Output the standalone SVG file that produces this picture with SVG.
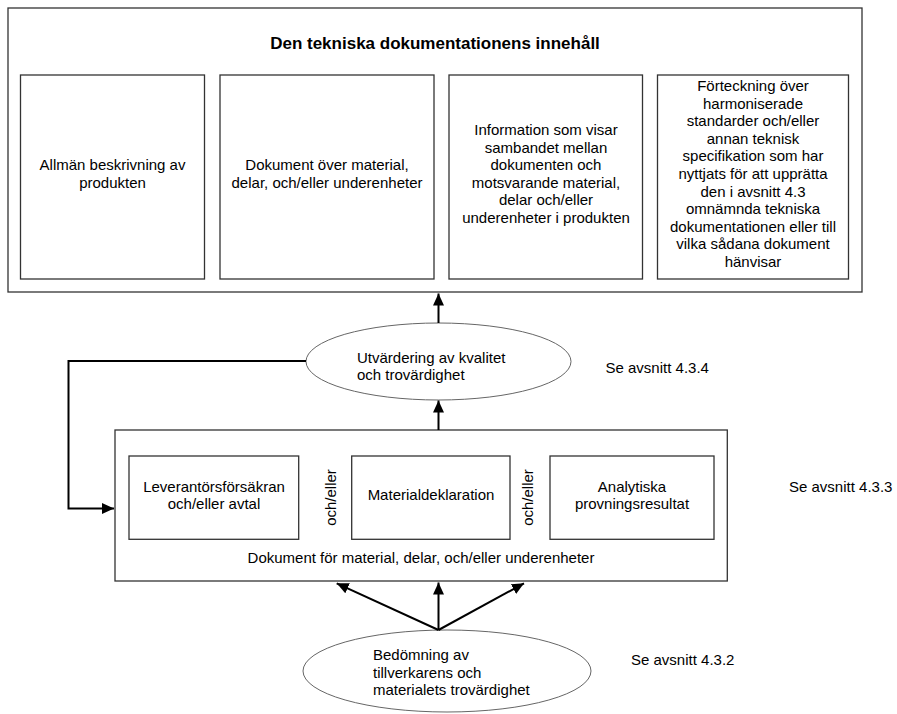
<svg xmlns="http://www.w3.org/2000/svg" width="897" height="714" viewBox="0 0 897 714">
<style>
.box{fill:#fff;stroke:#333;stroke-width:1.3}
.ell{fill:#fff;stroke:#666;stroke-width:1}
.t{font-family:"Liberation Sans",Arial,sans-serif;font-size:15px;fill:#000}
.c{text-anchor:middle}
.title{font-family:"Liberation Sans",Arial,sans-serif;font-size:17px;font-weight:bold;fill:#000;text-anchor:middle}
.arr{fill:none;stroke:#000;stroke-width:2}
</style>
<defs>
<marker id="ah" markerUnits="userSpaceOnUse" markerWidth="13" markerHeight="12" refX="12" refY="5.5" orient="auto">
<path d="M0,0 L12,5.5 L0,11 z" fill="#000"/>
</marker>
</defs>
<rect width="897" height="714" fill="#fff"/>

<g id="tech-doc">
<rect class="box" x="8" y="8" width="854" height="284"/>
<text class="title" x="435" y="48.5">Den tekniska dokumentationens innehåll</text>
</g>

<g id="box-allman">
<rect class="box" x="20.5" y="75" width="184" height="204"/>
<text class="t c" x="112.5" y="170">Allmän beskrivning av</text>
<text class="t c" x="112.5" y="187.5">produkten</text>
</g>

<g id="box-dokument">
<rect class="box" x="220" y="75" width="214" height="204"/>
<text class="t c" x="327" y="170">Dokument över material,</text>
<text class="t c" x="327" y="187.5">delar, och/eller underenheter</text>
</g>

<g id="box-information">
<rect class="box" x="449" y="75" width="193.5" height="204"/>
<text class="t c" x="546" y="135">Information som visar</text>
<text class="t c" x="546" y="152.5">sambandet mellan</text>
<text class="t c" x="546" y="170">dokumenten och</text>
<text class="t c" x="546" y="187.5">motsvarande material,</text>
<text class="t c" x="546" y="205">delar och/eller</text>
<text class="t c" x="546" y="222.5">underenheter i produkten</text>
</g>

<g id="box-forteckning">
<rect class="box" x="657.5" y="75" width="191" height="204"/>
<text class="t c" x="753" y="91">Förteckning över</text>
<text class="t c" x="753" y="108.6">harmoniserade</text>
<text class="t c" x="753" y="126.2">standarder och/eller</text>
<text class="t c" x="753" y="143.8">annan teknisk</text>
<text class="t c" x="753" y="161.4">specifikation som har</text>
<text class="t c" x="753" y="179">nyttjats för att upprätta</text>
<text class="t c" x="753" y="196.6">den i avsnitt 4.3</text>
<text class="t c" x="753" y="214.2">omnämnda tekniska</text>
<text class="t c" x="753" y="231.8">dokumentationen eller till</text>
<text class="t c" x="753" y="249.4">vilka sådana dokument</text>
<text class="t c" x="753" y="267">hänvisar</text>
</g>

<g id="utvardering">
<ellipse class="ell" cx="438.5" cy="361.5" rx="132.5" ry="38.5"/>
<text class="t" x="357" y="362.5">Utvärdering av kvalitet</text>
<text class="t" x="357" y="380">och trovärdighet</text>
</g>
<text class="t" x="605.5" y="372.5">Se avsnitt 4.3.4</text>

<g id="dokument-for">
<rect class="box" x="115" y="430" width="612.3" height="151"/>
<text class="t c" x="421" y="563">Dokument för material, delar, och/eller underenheter</text>
<text class="t c" transform="translate(335.5,497.5) rotate(-90)">och/eller</text>
<text class="t c" transform="translate(532.5,497.5) rotate(-90)">och/eller</text>
</g>

<g id="leverantor">
<rect class="box" x="129" y="456" width="169.7" height="83.3"/>
<text class="t c" x="214" y="491.5">Leverantörsförsäkran</text>
<text class="t c" x="214" y="509">och/eller avtal</text>
</g>

<g id="materialdeklaration">
<rect class="box" x="351.7" y="456" width="158.3" height="83.3"/>
<text class="t c" x="431" y="500">Materialdeklaration</text>
</g>

<g id="analytiska">
<rect class="box" x="550" y="456" width="164" height="83.3"/>
<text class="t c" x="632" y="491.5">Analytiska</text>
<text class="t c" x="632" y="509">provningsresultat</text>
</g>
<text class="t" x="789" y="491.5">Se avsnitt 4.3.3</text>

<g id="bedomning">
<ellipse class="ell" cx="447" cy="671" rx="144" ry="41"/>
<text class="t" x="373" y="660">Bedömning av</text>
<text class="t" x="373" y="677.5">tillverkarens och</text>
<text class="t" x="373" y="695">materialets trovärdighet</text>
</g>
<text class="t" x="631" y="665">Se avsnitt 4.3.2</text>

<g id="connectors">
<line class="arr" x1="438.5" y1="323" x2="438.5" y2="293.5" marker-end="url(#ah)"/>
<line class="arr" x1="438.5" y1="430" x2="438.5" y2="400.5" marker-end="url(#ah)"/>
<polyline class="arr" points="306,361 68.5,361 68.5,508.5 114,508.5" marker-end="url(#ah)"/>
<line class="arr" x1="438.5" y1="630" x2="336.7" y2="583.3" marker-end="url(#ah)"/>
<line class="arr" x1="438.5" y1="630" x2="438.5" y2="582.5" marker-end="url(#ah)"/>
<line class="arr" x1="438.5" y1="630" x2="524" y2="583.3" marker-end="url(#ah)"/>
</g>
</svg>
